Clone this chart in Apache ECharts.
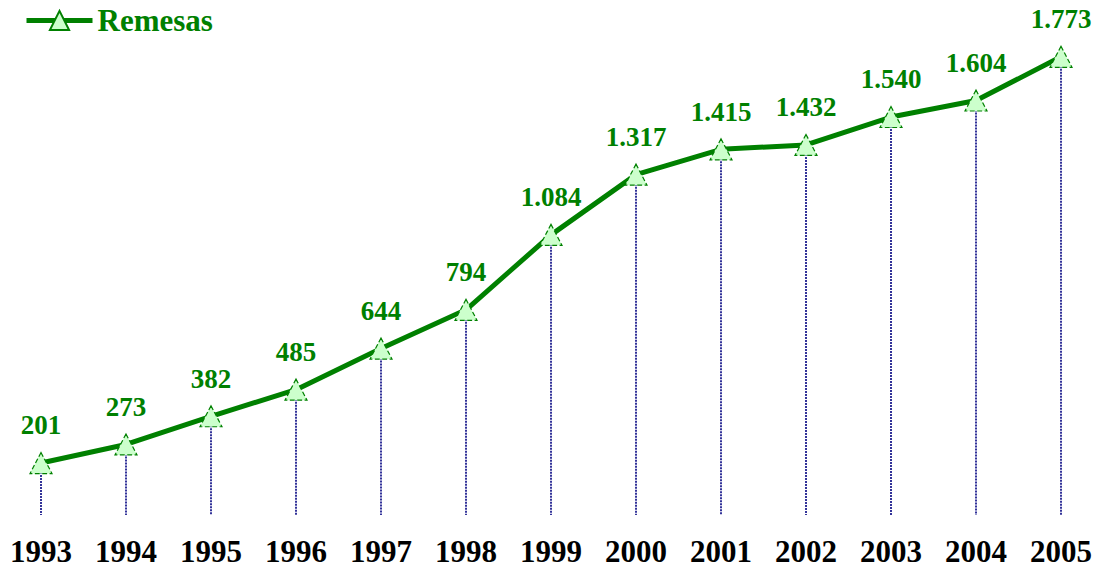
<!DOCTYPE html>
<html>
<head>
<meta charset="utf-8">
<script src="https://cdn.jsdelivr.net/npm/echarts@6/dist/echarts.min.js"></script>
<style>
  html, body { margin: 0; padding: 0; background: #fff; }
  #chart { width: 1099px; height: 569px; }
</style>
</head>
<body>
<div id="chart"></div>
<script>
// Remesas 1993-2005
var years = ['1993', '1994', '1995', '1996', '1997', '1998', '1999', '2000', '2001', '2002', '2003', '2004', '2005'];
var remesas = [201, 273, 382, 485, 644, 794, 1084, 1317, 1415, 1432, 1540, 1604, 1773];

var green = '#008000';
var serif = '"Liberation Serif", "Times New Roman", serif';

function fmt(v) {
  return String(v).replace(/\B(?=(\d{3})+(?!\d))/g, '.');
}

var chart = echarts.init(document.getElementById('chart'), null, { renderer: 'svg' });
chart.setOption({
  animation: false,
  legend: {
    data: ['Remesas'],
    left: 19,
    top: 0,
    itemWidth: 66,
    itemHeight: 24,
    itemGap: 4,
    lineStyle: { width: 5 },
    textStyle: { color: green, fontFamily: serif, fontWeight: 'bold', fontSize: 31 }
  },
  grid: { left: 41, right: 38, top: 24, bottom: 54 },
  xAxis: {
    type: 'category',
    data: years,
    boundaryGap: false,
    axisLine: { show: false },
    axisTick: { show: false },
    axisLabel: { color: '#000', fontFamily: serif, fontWeight: 'bold', fontSize: 31, margin: 21 }
  },
  yAxis: {
    type: 'value',
    min: 0,
    max: 1900,
    show: false,
    splitLine: { show: false }
  },
  series: [
    {
      // drop lines from each point to zero
      type: 'custom',
      silent: true,
      z: 1,
      data: remesas.map(function(v, i) { return [i, v]; }),
      renderItem: function(params, api) {
        var top = api.coord([api.value(0), api.value(1)]);
        var bottom = api.coord([api.value(0), 0]);
        return {
          type: 'line',
          shape: { x1: top[0], y1: top[1], x2: bottom[0], y2: bottom[1] },
          style: { stroke: '#333399', lineWidth: 2, lineDash: [2, 1] }
        };
      }
    },
    {
      name: 'Remesas',
      type: 'line',
      z: 3,
      data: remesas,
      symbol: 'triangle',
      symbolSize: [22, 21],
      lineStyle: { color: green, width: 5 },
      itemStyle: { color: '#ccffcc', borderColor: green, borderWidth: 1.2, borderType: 'dashed' },
      label: {
        show: true,
        position: 'top',
        distance: 13,
        color: green,
        fontFamily: serif,
        fontWeight: 'bold',
        fontSize: 27,
        formatter: function(p) { return fmt(p.value); }
      }
    }
  ]
});
</script>
</body>
</html>
